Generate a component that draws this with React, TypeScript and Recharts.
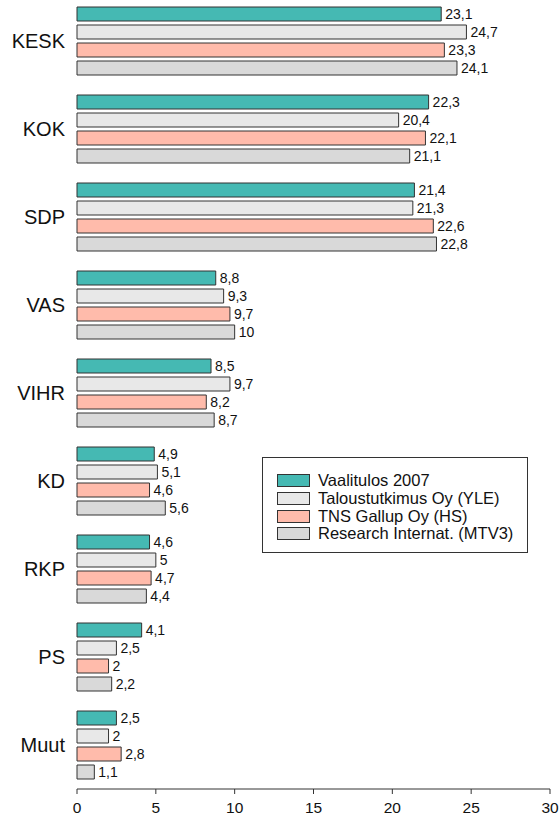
import { BarChart, Bar, XAxis, YAxis, LabelList, Legend } from 'recharts'

const parties = ['KESK', 'KOK', 'SDP', 'VAS', 'VIHR', 'KD', 'RKP', 'PS', 'Muut']
const vaalitulos = [23.1, 22.3, 21.4, 8.8, 8.5, 4.9, 4.6, 4.1, 2.5]
const taloustutkimus = [24.7, 20.4, 21.3, 9.3, 9.7, 5.1, 5, 2.5, 2]
const tnsGallup = [23.3, 22.1, 22.6, 9.7, 8.2, 4.6, 4.7, 2, 2.8]
const research = [24.1, 21.1, 22.8, 10, 8.7, 5.6, 4.4, 2.2, 1.1]
const xTicks = [0, 5, 10, 15, 20, 25, 30]

const series = [
  { key: 'vaalitulos', name: 'Vaalitulos 2007', color: '#45b9b3' },
  { key: 'taloustutkimus', name: 'Taloustutkimus Oy (YLE)', color: '#e8e8e8' },
  { key: 'tns', name: 'TNS Gallup Oy (HS)', color: '#ffbbab' },
  { key: 'research', name: 'Research Internat. (MTV3)', color: '#d9d9d9' },
]

const data = parties.map((p, i) => ({
  party: p,
  vaalitulos: vaalitulos[i],
  taloustutkimus: taloustutkimus[i],
  tns: tnsGallup[i],
  research: research[i],
}))

const font = '"Liberation Sans", Arial, sans-serif'
const fmt = (v: any) => String(v).replace('.', ',')

function LegendBox() {
  return (
    <div style={{ border: '1px solid #333', background: '#fff', padding: '14px 0 0 14px', height: 96, boxSizing: 'border-box', fontFamily: font }}>
      {series.map(s => (
        <div key={s.key} style={{ display: 'flex', alignItems: 'center', height: 17.7 }}>
          <span style={{ width: 31, height: 11, background: s.color, border: '1px solid #333', marginRight: 8, flexShrink: 0 }} />
          <span style={{ fontSize: 16.5, color: '#111', lineHeight: '17px', whiteSpace: 'nowrap' }}>{s.name}</span>
        </div>
      ))}
    </div>
  )
}

export default function App() {
  return (
    <div style={{ position: 'absolute', left: 0, top: 0, width: 559, height: 818, fontFamily: font }}>
      <BarChart
        width={559}
        height={818}
        data={data}
        layout="vertical"
        margin={{ top: -3, right: 9, bottom: 0, left: 0 }}
        barSize={14}
        barGap={4}
      >
        <XAxis
          type="number"
          domain={[0, 30]}
          ticks={xTicks}
          height={29}
          tickSize={5}
          tickMargin={8}
          stroke="#333"
          tick={{ fontSize: 15.5, fill: '#111', fontFamily: font }}
        />
        <YAxis
          type="category"
          dataKey="party"
          width={77}
          axisLine={false}
          tickLine={false}
          tickSize={8}
          tickMargin={4}
          tick={{ fontSize: 20, fill: '#111', fontFamily: font }}
        />
        <Legend
          layout="vertical"
          align="center"
          verticalAlign="middle"
          wrapperStyle={{ top: 457, left: 262, width: 266 }}
          content={() => <LegendBox />}
        />
        {series.map(s => (
          <Bar key={s.key} dataKey={s.key} name={s.name} fill={s.color} stroke="#333" strokeWidth={1} isAnimationActive={false}>
            <LabelList dataKey={s.key} position="right" offset={4} formatter={fmt} style={{ fontSize: 14, fill: '#111', fontFamily: font }} />
          </Bar>
        ))}
      </BarChart>
    </div>
  )
}
